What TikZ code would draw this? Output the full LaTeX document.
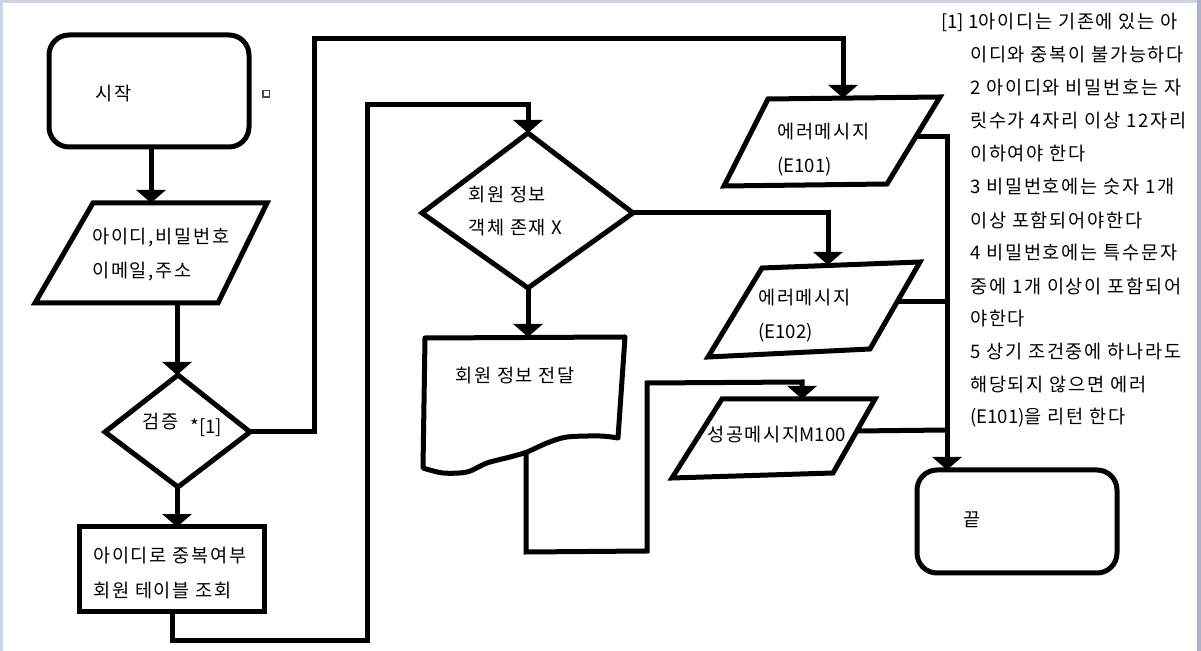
\documentclass[tikz,border=0pt]{standalone}
\usepackage{fontspec}
\setmainfont[LetterSpace=9]{Noto Sans CJK KR}
\newfontfamily\lat{Noto Sans CJK KR}
\usetikzlibrary{arrows.meta}
\definecolor{frameL}{RGB}{205,213,228}
\definecolor{frameR}{RGB}{170,178,195}
\tikzset{
  shp/.style={line width=0.1cm, line join=miter},
  con/.style={line width=0.1cm},
  arr/.style={con, -{Triangle[width=0.58cm,length=0.26cm]}},
  txt/.style={anchor=west, inner sep=0pt, font=\fontsize{10.6pt}{12pt}\selectfont},
}
\begin{document}
\begin{tikzpicture}[x=0.02cm,y=-0.02cm]
\useasboundingbox (0,0) rectangle (1201,651);
\fill[white] (0,0) rectangle (1201,651);
\fill[frameL] (0,0) rectangle (1201,3);
\fill[frameL] (0,0) rectangle (3,651);
\fill[frameR] (1197,0) rectangle (1201,651);

% ---- shapes ----
% start
\draw[shp, rounded corners=0.4cm] (49,35) rectangle (249,147);
\node[txt] (tStart) at (95,94) {시작};
\draw[line width=0.6pt, black!70] (263,90.5) rectangle (269.5,97);
% input parallelogram
\draw[shp] (93,203) -- (267,203) -- (218,303) -- (35,303) -- cycle;
\node[txt] (tIn1) at (92,238) {아이디,비밀번호};
\node[txt] (tIn2) at (92,272) {이메일,주소};
% diamond 1
\draw[shp] (178,375) -- (250,432) -- (178,487) -- (105,432) -- cycle;
\node[txt] (tChk) at (142,422) {검증};
\node[txt] (tChkRef) at (190,428) {\lat *[1]};
% rect
\draw[shp] (79,527) rectangle (264,612);
\node[txt] (tQ1) at (93,556) {아이디로 중복여부};
\node[txt] (tQ2) at (93,591) {회원 테이블 조회};
% diamond 2
\draw[shp] (528,133) -- (633,213) -- (528,288) -- (422,213) -- cycle;
\node[txt] (tD1) at (468,195) {회원 정보};
\node[txt] (tD2) at (468,228) {객체 존재 {\lat X}};
% document
\draw[shp, line join=round] (425,338) -- (625,337) -- (618,438)
  -- plot[smooth] coordinates {(618,438) (600,436) (567,437) (547,443) (527,452) (510,457) (487,463) (467,472) (443,473) (423,468)} -- cycle;
\node[txt] (tDoc) at (455,376) {회원 정보 전달};
% E101
\draw[shp] (768,99) -- (940,97) -- (887,184) -- (724,186) -- cycle;
\node[txt] (tE1a) at (777,132) {에러메시지};
\node[txt] (tE1b) at (777,167) {\lat (E101)};
% E102
\draw[shp] (762,268) -- (920,262) -- (870,349) -- (708,357) -- cycle;
\node[txt] (tE2a) at (758,298) {에러메시지};
\node[txt] (tE2b) at (758,333) {\lat (E102)};
% success
\draw[shp] (722,399) -- (875,399) -- (833,473) -- (672,478) -- cycle;
\node[txt] (tOk) at (707,435) {성공메시지{\lat M100}};
% end
\draw[shp, rounded corners=0.4cm] (917,470) rectangle (1117,573);
\node[txt] (tEnd) at (963,520) {끝};

% ---- connection points ----
\coordinate (startB) at (151,147);
\coordinate (inT) at (151,203);
\coordinate (inB) at (177,303);
\coordinate (d1T) at (177,375);
\coordinate (d1R) at (250,432);
\coordinate (d1B) at (177,487);
\coordinate (rT) at (177,527);
\coordinate (rB) at (172,612);
\coordinate (d2T) at (528,133);
\coordinate (d2R) at (633,213);
\coordinate (d2B) at (528,288);
\coordinate (docT) at (528,337);
\coordinate (docB) at (526,452);
\coordinate (e1T) at (843,98);
\coordinate (e1R) at (916,137);
\coordinate (e2T) at (828,265);
\coordinate (e2R) at (897,302);
\coordinate (okT) at (802,399);
\coordinate (okR) at (856,431);
\coordinate (endT) at (947,470);

% ---- connectors ----
\draw[arr] (startB) -- (inT);
\draw[arr] (inB) -- (d1T);
\draw[arr] (d1B) -- (rT);
\draw[arr] (d1R) -- (314,432) -- (314,39) -- (843,39) -- (e1T);
\draw[arr] (rB) -- (172,641) -- (367,641) -- (367,105) -- (528,105) -- (d2T);
\draw[arr] (d2R) -- (828,213) -- (e2T);
\draw[arr] (d2B) -- (docT);
\draw[arr] (docB) -- (526,552) -- (647,551) -- (647,383) -- (802,382) -- (okT);
\draw[arr] (e1R) -- (947,137) -- (endT);
\draw[con] (e2R) -- (947,302);
\draw[con] (okR) -- (947,430);

% ---- note ----
\node[txt] (n1) at (941,22) {{\lat[1] 1}아이디는 기존에 있는 아};
\node[txt] (n2) at (970,55) {이디와 중복이 불가능하다};
\node[txt] (n3) at (970,88) {2 아이디와 비밀번호는 자};
\node[txt] (n4) at (970,121) {릿수가 4자리 이상 12자리};
\node[txt] (n5) at (970,154) {이하여야 한다};
\node[txt] (n6) at (970,187) {3 비밀번호에는 숫자 1개};
\node[txt] (n7) at (970,220) {이상 포함되어야한다};
\node[txt] (n8) at (970,253) {4 비밀번호에는 특수문자};
\node[txt] (n9) at (970,286) {중에 1개 이상이 포함되어};
\node[txt] (n10) at (970,319) {야한다};
\node[txt] (n11) at (970,352) {5 상기 조건중에 하나라도};
\node[txt] (n12) at (970,385) {해당되지 않으면 에러};
\node[txt] (n13) at (970,418) {{\lat(E101)}을 리턴 한다};
\end{tikzpicture}
\end{document}
